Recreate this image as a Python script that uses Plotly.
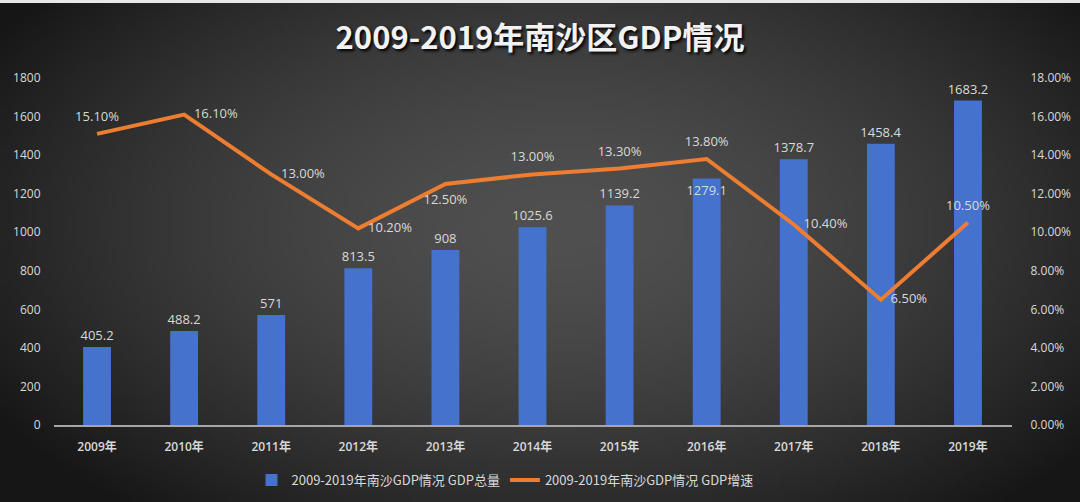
import base64, struct, zlib, math
import plotly.graph_objects as go

years = ["2009年", "2010年", "2011年", "2012年", "2013年", "2014年",
         "2015年", "2016年", "2017年", "2018年", "2019年"]
gdp_total = [405.2, 488.2, 571, 813.5, 908, 1025.6, 1139.2, 1279.1, 1378.7, 1458.4, 1683.2]
gdp_growth = [15.1, 16.1, 13.0, 10.2, 12.5, 13.0, 13.3, 13.8, 10.4, 6.5, 10.5]  # percent
growth_label_pos = ["top center", "middle right", "middle right", "middle right",
                    "bottom center", "top center", "top center", "top center",
                    "middle right", "middle right", "top center"]
bar_label_pos = ["outside"] * 7 + ["inside"] + ["outside"] * 3

W, H = 1080, 502

# --- radial gradient background as a small PNG ---
def make_png(w, h):
    rows = []
    cx, cy = 0.52, 0.45
    for j in range(h):
        row = bytearray([0])
        for i in range(w):
            dx = (i / (w - 1) - cx) / 0.62
            dy = (j / (h - 1) - cy) / 0.75
            t = min(1.0, math.sqrt(dx * dx + dy * dy))
            t = t ** 1.6
            c0, c1 = 80, 22
            v = int(c0 + (c1 - c0) * t)
            row += bytes([v, v, v])
        rows.append(bytes(row))
    raw = b"".join(rows)
    def chunk(tag, data):
        c = struct.pack(">I", len(data)) + tag + data
        return c + struct.pack(">I", zlib.crc32(tag + data) & 0xffffffff)
    png = b"\x89PNG\r\n\x1a\n"
    png += chunk(b"IHDR", struct.pack(">IIBBBBB", w, h, 8, 2, 0, 0, 0))
    png += chunk(b"IDAT", zlib.compress(raw, 9))
    png += chunk(b"IEND", b"")
    return "data:image/png;base64," + base64.b64encode(png).decode()

bg = make_png(216, 100)

font_fam = "Open Sans, Noto Sans CJK SC, sans-serif"
txt_col = "#d9d9d9"

fig = go.Figure()
fig.add_trace(go.Bar(
    x=years, y=gdp_total, name="2009-2019年南沙GDP情况 GDP总量",
    marker=dict(color="#4472cc", line=dict(width=0)),
    text=[f"{v:g}" for v in gdp_total], textposition=bar_label_pos,
    constraintext="none", insidetextanchor="end", textangle=0,
    textfont=dict(color=txt_col, size=13, family=font_fam),
    insidetextfont=dict(color=txt_col, size=13, family=font_fam),
    outsidetextfont=dict(color=txt_col, size=13, family=font_fam),
    cliponaxis=False, yaxis="y",
))
fig.add_trace(go.Scatter(
    x=years, y=[g / 100 for g in gdp_growth], name="2009-2019年南沙GDP情况 GDP增速",
    mode="lines+markers+text", line=dict(color="#ed7d31", width=4),
    marker=dict(size=14, color="rgba(0,0,0,0)", line=dict(width=0)),
    text=[f"{g:.2f}%" for g in gdp_growth], textposition=growth_label_pos,
    textfont=dict(color=txt_col, size=13, family=font_fam),
    cliponaxis=False, yaxis="y2",
))

x0, x1 = 53.5 / W, 1011.5 / W
yb, yt = 1 - 425 / H, 1 - 78 / H

fig.update_layout(
    width=W, height=H, autosize=False,
    margin=dict(l=0, r=0, t=0, b=0, pad=0, autoexpand=False),
    paper_bgcolor="#333333", plot_bgcolor="rgba(0,0,0,0)",
    images=[dict(source=bg, xref="paper", yref="paper", x=0, y=1, sizex=1, sizey=1,
                 sizing="stretch", layer="below", xanchor="left", yanchor="top")],
    title=dict(text="<b>2009-2019年南沙区GDP情况</b>", x=0.5, xanchor="center",
               y=1 - 38 / H, yanchor="middle", automargin=False,
               font=dict(size=31, color="#f2f2f2", family="Noto Sans CJK SC, sans-serif",
                         shadow="2px 2px 3px #000000")),
    bargap=0.68,
    xaxis=dict(domain=[x0, x1], range=[-0.5, len(years) - 0.5], autorange=False,
               showgrid=False, showline=True, linecolor="#a6a6a6",
               linewidth=1.5, ticks="", automargin=False,
               tickfont=dict(color=txt_col, size=12, family=font_fam, weight=600),
               ticklabelstandoff=10),
    yaxis=dict(range=[0, 1800], dtick=200, showgrid=False, zeroline=False, automargin=False,
               domain=[yb, yt], tickfont=dict(color=txt_col, size=12, family=font_fam),
               ticks="", ticklabelstandoff=12),
    yaxis2=dict(range=[0, 0.18], dtick=0.02, tickformat=".2%", overlaying="y", side="right",
                showgrid=False, zeroline=False, automargin=False,
                tickfont=dict(color=txt_col, size=12, family=font_fam), ticks="",
                ticklabelstandoff=18),
    legend=dict(orientation="h", x=505 / W, xanchor="center", y=1 - 480 / H, yanchor="middle",
                font=dict(color=txt_col, size=13, family="Noto Sans CJK SC, sans-serif"),
                bgcolor="rgba(0,0,0,0)"),
    shapes=[dict(type="rect", xref="paper", yref="paper", x0=0, x1=1,
                 y0=1 - 3 / H, y1=1, fillcolor="#e8e8e8", line=dict(width=0))],
    showlegend=True,
)
fig.write_html("out.html", config={"displayModeBar": False},
               post_script="document.body.style.margin='0';document.body.style.overflow='hidden';")
